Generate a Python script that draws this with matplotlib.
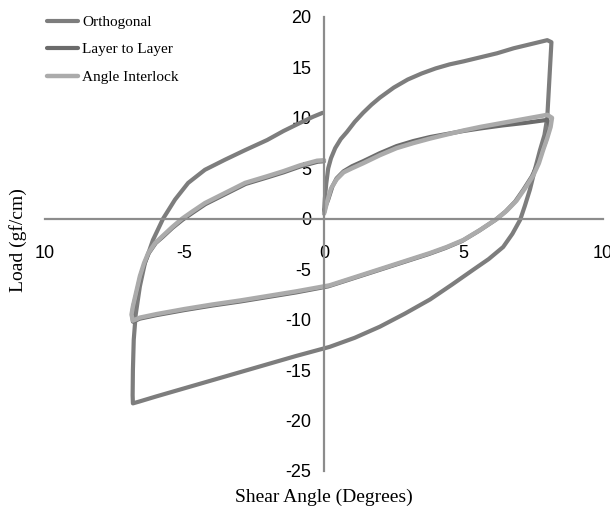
#
# Shear hysteresis loops of three fabric types
#

import matplotlib.pyplot as plt
import numpy as np

plt.rcParams["axes.unicode_minus"] = False

# 1. Input
# Orthogonal: load up to max angle, back to min angle, back to zero
orth_x = [0.0, 0.03, 0.08, 0.15, 0.25, 0.4, 0.6, 0.82, 1.1, 1.4, 1.7, 2.0,
          2.5, 3.0, 3.5, 4.0, 4.5, 5.0, 5.6, 6.2, 6.8, 7.4, 8.0, 8.15,
          8.12, 8.08, 8.04, 8.0, 7.9, 7.74, 7.55, 7.38, 7.2, 7.03, 6.75, 6.42,
          5.9, 5.35, 4.6, 3.8, 2.9, 2.0, 1.1, 0.2, -1.0, -2.0, -3.0, -4.0,
          -5.0, -6.0, -6.6, -6.85, -6.86, -6.85, -6.82, -6.75, -6.67, -6.6,
          -6.42, -6.13, -5.77, -5.34, -4.87, -4.27, -3.55, -2.83, -2.04,
          -1.45, -0.86, -0.4, -0.05]
orth_y = [0.6, 2.0, 3.5, 5.0, 6.0, 7.0, 7.9, 8.6, 9.6, 10.5, 11.3, 12.0,
          13.0, 13.8, 14.4, 14.9, 15.3, 15.6, 16.0, 16.4, 16.9, 17.3, 17.7,
          17.5, 16.0, 14.0, 12.0, 10.0, 8.3, 6.8, 4.8, 2.9, 1.3, -0.1, -1.5,
          -2.8, -4.0, -5.05, -6.5, -8.0, -9.4, -10.7, -11.8, -12.7, -13.6,
          -14.4, -15.2, -16.0, -16.8, -17.6, -18.1, -18.3, -17.5, -15.0,
          -12.0, -9.5, -8.0, -6.7, -4.4, -2.1, 0.0, 1.9, 3.55, 4.85, 5.85,
          6.8, 7.8, 8.7, 9.5, 10.1, 10.5]

# Layer to Layer
ltl_x = [0.0, 0.05, 0.15, 0.3, 0.45, 0.7, 1.0, 1.4, 2.0, 2.6, 3.2, 3.8, 4.4,
         5.0, 5.6, 6.4, 7.2, 8.0, 8.1, 8.05, 7.95, 7.8, 7.65, 7.45, 7.15,
         6.85, 6.5, 6.15, 5.55, 4.95, 4.35, 3.75, 2.85, 1.95, 1.05, 0.15,
         -1.0, -2.0, -3.0, -4.0, -5.0, -6.0, -6.6, -6.85, -6.88, -6.83,
         -6.73, -6.58, -6.43, -6.28, -6.03, -5.78, -5.43, -5.07, -4.68,
         -4.25, -3.53, -2.81, -2.03, -1.45, -0.83, -0.23, 0.0]
ltl_y = [0.6, 1.2, 1.9, 3.2, 4.0, 4.7, 5.2, 5.7, 6.5, 7.2, 7.7, 8.1, 8.4,
         8.7, 8.95, 9.25, 9.5, 9.8, 9.2, 8.7, 7.7, 6.6, 5.4, 4.2, 2.9, 1.7,
         0.7, -0.1, -1.2, -2.2, -2.9, -3.5, -4.3, -5.1, -5.9, -6.7, -7.3,
         -7.75, -8.2, -8.6, -9.05, -9.55, -9.9, -10.2, -9.4, -8.6, -7.5,
         -5.7, -4.4, -3.4, -2.4, -1.8, -0.9, -0.1, 0.65, 1.45, 2.45, 3.45,
         4.1, 4.6, 5.2, 5.65, 5.7]

# Angle Interlock
ai_x = [0.0, 0.05, 0.1, 0.25, 0.45, 0.7, 1.0, 1.4, 2.0, 2.6, 3.2, 3.8, 4.4,
        5.0, 5.6, 6.4, 7.2, 8.0, 8.17, 8.12, 8.0, 7.85, 7.7, 7.5, 7.2, 6.9,
        6.55, 6.2, 5.6, 5.0, 4.4, 3.8, 2.9, 2.0, 1.1, 0.2, -1.0, -2.0, -3.0,
        -4.0, -5.0, -6.0, -6.6, -6.85, -6.9, -6.85, -6.75, -6.6, -6.45,
        -6.3, -6.05, -5.8, -5.45, -5.09, -4.7, -4.27, -3.55, -2.83, -2.05,
        -1.47, -0.85, -0.25, 0.0]
ai_y = [0.5, 1.0, 1.6, 3.0, 3.9, 4.6, 5.0, 5.5, 6.3, 7.0, 7.5, 7.95, 8.35,
        8.75, 9.1, 9.5, 9.9, 10.3, 10.0, 9.1, 8.0, 6.8, 5.5, 4.3, 3.0, 1.8,
        0.8, 0.0, -1.1, -2.1, -2.8, -3.4, -4.2, -5.0, -5.8, -6.6, -7.2,
        -7.65, -8.1, -8.5, -8.95, -9.45, -9.8, -10.1, -9.5, -8.7, -7.5,
        -5.7, -4.4, -3.4, -2.4, -1.75, -0.85, 0.0, 0.75, 1.55, 2.55, 3.55,
        4.2, 4.7, 5.3, 5.75, 5.8]

x_ticks = [-10, -5, 0, 5, 10]
x_tick_labels = ["10", "-5", "0", "5", "10"]
y_ticks = [-25, -20, -15, -10, -5, 0, 5, 10, 15, 20]

# 2. Process
fig = plt.figure(figsize=(6.1, 5.14), dpi=100)
ax = fig.add_axes([0.0738, 0.0837, 0.9148, 0.8833])

# 3. Output
ax.plot(orth_x, orth_y, color="#7d7d7d", lw=3.0, label="Orthogonal",
        solid_joinstyle="round", solid_capstyle="round")
ax.plot(ltl_x, ltl_y, color="#6b6b6b", lw=3.0, label="Layer to Layer",
        solid_joinstyle="round", solid_capstyle="round")
ax.plot(ai_x, ai_y, color="#ababab", lw=3.2, label="Angle Interlock",
        solid_joinstyle="round", solid_capstyle="round")

ax.set_xlim(-10, 10)
ax.set_ylim(-25, 20)
for side in ["top", "right"]:
    ax.spines[side].set_visible(False)
ax.spines["left"].set_position(("data", 0))
ax.spines["bottom"].set_position(("data", 0))
for side in ["left", "bottom"]:
    ax.spines[side].set_color("#8c8c8c")
    ax.spines[side].set_linewidth(1.6)

ax.set_xticks(x_ticks)
ax.set_xticklabels(x_tick_labels)
ax.set_yticks(y_ticks)
ax.tick_params(axis="x", length=0, pad=19, labelsize=13)
ax.tick_params(axis="y", length=0, pad=9, labelsize=13)
for lab in ax.get_xticklabels() + ax.get_yticklabels():
    lab.set_fontfamily("Liberation Sans")

fig.text(0.531, 0.033, "Shear Angle (Degrees)", ha="center", va="center",
         fontsize=14, family="Liberation Serif")
fig.text(0.03, 0.533, "Load (gf/cm)", ha="center", va="center",
         rotation=90, fontsize=14, family="Liberation Serif")

ax.legend(loc="upper left", bbox_to_anchor=(0.065, 0.985),
          bbox_transform=fig.transFigure, frameon=False, borderpad=0,
          handlelength=2.0, handletextpad=0.3, labelspacing=0.9,
          prop={"family": "Liberation Serif", "size": 11})

plt.savefig("out.png", dpi=100)
